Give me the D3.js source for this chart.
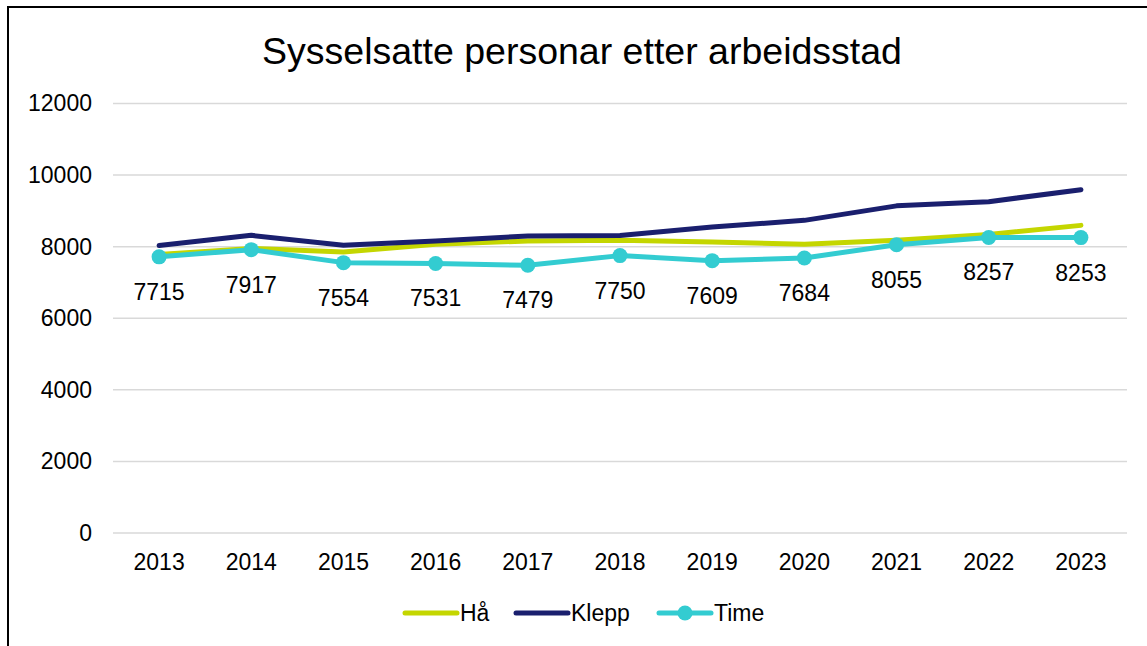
<!DOCTYPE html>
<html>
<head>
<meta charset="utf-8">
<script src="https://cdn.jsdelivr.net/npm/d3@7"></script>
<style>
  body { margin: 0; background: #fff; }
  text { font-family: "Liberation Sans", Arial, sans-serif; }
</style>
</head>
<body>
<svg id="chart" width="1147" height="646"></svg>
<script>
// data
var years = ["2013","2014","2015","2016","2017","2018","2019","2020","2021","2022","2023"];
var ha    = [7780, 7950, 7850, 8065, 8160, 8177, 8130, 8065, 8177, 8340, 8595];
var klepp = [8030, 8316, 8037, 8158, 8300, 8310, 8548, 8735, 9140, 9257, 9592];
var time  = [7715, 7917, 7554, 7531, 7479, 7750, 7609, 7684, 8055, 8257, 8253];
var yTicks = [0, 2000, 4000, 6000, 8000, 10000, 12000];

var series = [
  {name: "Hå", values: ha, color: "#c4d600", marker: false},
  {name: "Klepp", values: klepp, color: "#1a1f6e", marker: false},
  {name: "Time", values: time, color: "#33ccd1", marker: true}
];

var svg = d3.select("#chart");

// ramme rundt diagrammet
svg.append("rect")
  .attr("x", 8).attr("y", 7)
  .attr("width", 1200).attr("height", 700)
  .attr("fill", "none")
  .attr("stroke", "#000")
  .attr("stroke-width", 2);

var pLeft = 113, pRight = 1127, pTop = 103.5, pBottom = 533;

var x = d3.scaleBand().domain(years).range([pLeft, pRight]);
var y = d3.scaleLinear().domain([0, 12000]).range([pBottom, pTop]);

// tittel
svg.append("text")
  .attr("x", 582).attr("y", 64)
  .attr("text-anchor", "middle")
  .attr("font-size", 37.5)
  .attr("fill", "#000")
  .text("Sysselsatte personar etter arbeidsstad");

// rutenett
svg.append("g").selectAll("line")
  .data(yTicks)
  .enter().append("line")
  .attr("x1", pLeft).attr("x2", pRight)
  .attr("y1", function(d){ return y(d); })
  .attr("y2", function(d){ return y(d); })
  .attr("stroke", "#d9d9d9")
  .attr("stroke-width", 1.5);

// y-akse
var yAxis = svg.append("g")
  .attr("transform", "translate(" + (pLeft - 21) + ",0)")
  .call(d3.axisLeft(y).tickValues(yTicks).tickFormat(d3.format("d")).tickSize(0).tickPadding(0));
yAxis.select(".domain").remove();
yAxis.selectAll("text").attr("font-size", 23).attr("fill", "#000")
  .attr("font-family", "Liberation Sans, Arial, sans-serif");

// x-akse
var xAxis = svg.append("g")
  .attr("transform", "translate(0," + pBottom + ")")
  .call(d3.axisBottom(x).tickSize(0).tickPadding(21));
xAxis.select(".domain").remove();
xAxis.selectAll("text").attr("font-size", 23).attr("fill", "#000")
  .attr("font-family", "Liberation Sans, Arial, sans-serif");

var line = d3.line()
  .x(function(d, i){ return x(years[i]) + x.bandwidth() / 2; })
  .y(function(d){ return y(d); });

series.forEach(function(s){
  svg.append("path")
    .datum(s.values)
    .attr("d", line)
    .attr("fill", "none")
    .attr("stroke", s.color)
    .attr("stroke-width", 5)
    .attr("stroke-linejoin", "round")
    .attr("stroke-linecap", "round");
  if (s.marker) {
    svg.append("g").selectAll("circle")
      .data(s.values)
      .enter().append("circle")
      .attr("cx", function(d, i){ return x(years[i]) + x.bandwidth() / 2; })
      .attr("cy", function(d){ return y(d); })
      .attr("r", 7.5)
      .attr("fill", s.color);
    // dataetiketter
    svg.append("g").selectAll("text")
      .data(s.values)
      .enter().append("text")
      .attr("x", function(d, i){ return x(years[i]) + x.bandwidth() / 2; })
      .attr("y", function(d){ return y(d) + 43; })
      .attr("text-anchor", "middle")
      .attr("font-size", 23)
      .attr("fill", "#000")
      .text(function(d){ return d; });
  }
});

// forklaring
var legendX = [403, 514, 657];
var legend = svg.append("g");
series.forEach(function(s, i){
  var lx = legendX[i], ly = 613;
  legend.append("line")
    .attr("x1", lx + 2).attr("x2", lx + 54)
    .attr("y1", ly).attr("y2", ly)
    .attr("stroke", s.color)
    .attr("stroke-width", 5)
    .attr("stroke-linecap", "round");
  if (s.marker) {
    legend.append("circle")
      .attr("cx", lx + 28).attr("cy", ly).attr("r", 7.5)
      .attr("fill", s.color);
  }
  legend.append("text")
    .attr("x", lx + 57).attr("y", ly + 8)
    .attr("font-size", 23)
    .attr("fill", "#000")
    .text(s.name);
});
</script>
</body>
</html>
